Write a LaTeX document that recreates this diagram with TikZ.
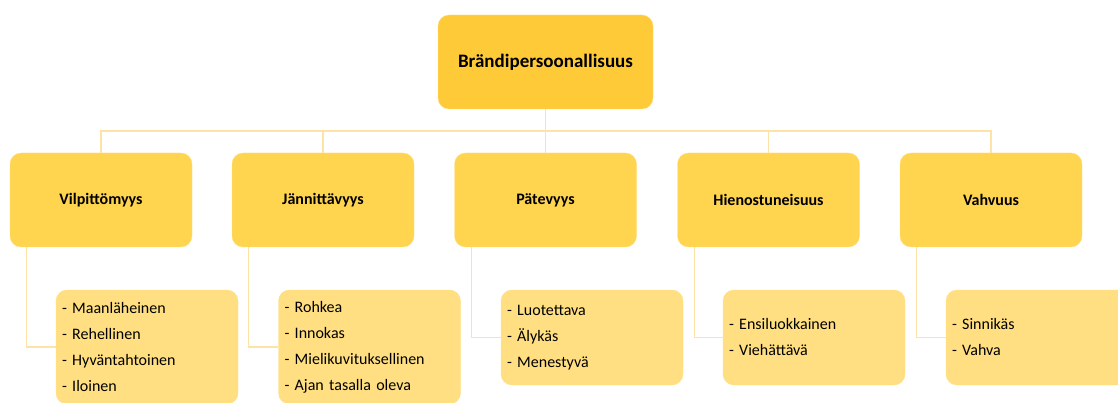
\documentclass[tikz,border=0pt]{standalone}
\usepackage{fontspec}
\setmainfont{Carlito}
\usepackage{tikz}
\usetikzlibrary{positioning,calc}
\definecolor{BrandGold}{HTML}{FFCA38}
\definecolor{BrandAmber}{HTML}{FFD44F}
\definecolor{BrandLight}{HTML}{FFDF82}
\definecolor{BrandLine}{HTML}{FFE2A6}

\begin{document}
\begin{tikzpicture}[x=1pt,y=-1pt,
  rootbox/.style={fill=BrandGold,draw=BrandLight,rounded corners=11pt,minimum width=215pt,minimum height=94pt,font=\fontsize{19}{22}\selectfont\bfseries},
  traitbox/.style={fill=BrandAmber,draw=BrandLight,rounded corners=11pt,minimum width=182pt,minimum height=94pt,font=\fontsize{16}{19}\selectfont\bfseries},
  listbox/.style={fill=BrandLight,draw=BrandLight,rounded corners=11pt,minimum width=182pt,text width=170pt,inner xsep=6pt,align=left,font=\fontsize{16}{26}\selectfont},
  link/.style={BrandLine,line width=1.3pt}]
  \useasboundingbox (0,0) rectangle (1118,403);
  \node[rootbox] (root) at (545.5,62) {Brändipersoonallisuus};
  % trait boxes
  \node[traitbox] (vil) at (101,200) {Vilpittömyys};
  \node[traitbox] (jan) at (323,200) {Jännittävyys};
  \node[traitbox] (pat) at (545.5,200) {Pätevyys};
  \node[traitbox] (hie) at (768.5,200) {Hienostuneisuus};
  \node[traitbox] (vah) at (991,200) {Vahvuus};
  % lists
  \node[listbox,minimum height=114pt] (vilL) at (147,347) {- Maanläheinen\\- Rehellinen\\- Hyväntahtoinen\\- Iloinen};
  \node[listbox,minimum height=114pt] (janL) at (369.5,347) {- Rohkea\\- Innokas\\- Mielikuvituksellinen\\- Ajan tasalla oleva};
  \node[listbox,minimum height=95pt] (patL) at (592,337.5) {- Luotettava\\- Älykäs\\- Menestyvä};
  \node[listbox,minimum height=95pt] (hieL) at (814,337.5) {- Ensiluokkainen\\- Viehättävä};
  \node[listbox,minimum height=95pt] (vahL) at (1037,337.5) {- Sinnikäs\\- Vahva};
  % connectors
  \coordinate (bus) at (545.5,131);
  \draw[link] (root.south) -- (bus);
  \foreach \t in {vil,jan,pat,hie,vah}
    \draw[link] (bus) -| (\t.north);
  \foreach \t in {vil,jan,pat,hie,vah}
    \draw[link] ([xshift=17pt]\t.south west) |- (\t L.west);
\end{tikzpicture}
\end{document}
